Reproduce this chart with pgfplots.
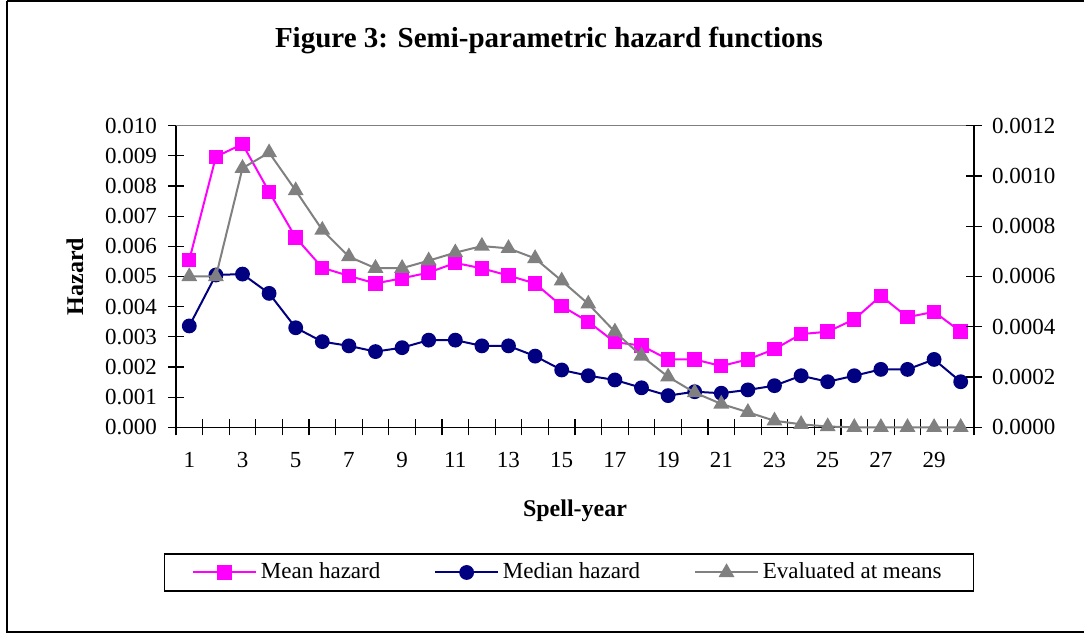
\documentclass[border=0pt]{standalone}
\usepackage{fontspec}
\setmainfont{Liberation Serif}
\usepackage{pgfplots}
\usepackage{pgfplotstable}
\pgfplotsset{compat=1.18}

\definecolor{meanc}{HTML}{FF00FF}
\definecolor{medc}{HTML}{000080}
\definecolor{evalc}{HTML}{808080}

% spell-year, mean hazard, median hazard (left axis), evaluated at means (right axis)
\pgfplotstableread{
year mean    median  evalm
1    0.00555 0.00336 0.000600
2    0.00897 0.00505 0.000600
3    0.00939 0.00508 0.001031
4    0.00781 0.00444 0.001093
5    0.00629 0.00330 0.000942
6    0.00529 0.00284 0.000785
7    0.00502 0.00270 0.000679
8    0.00477 0.00251 0.000633
9    0.00494 0.00264 0.000633
10   0.00513 0.00289 0.000663
11   0.00545 0.00289 0.000695
12   0.00527 0.00270 0.000721
13   0.00503 0.00270 0.000712
14   0.00477 0.00236 0.000672
15   0.00402 0.00190 0.000583
16   0.00350 0.00171 0.000491
17   0.00282 0.00157 0.000380
18   0.00271 0.00131 0.000284
19   0.00225 0.00105 0.000201
20   0.00225 0.00118 0.000138
21   0.00203 0.00113 0.000093
22   0.00225 0.00124 0.000060
23   0.00259 0.00138 0.000026
24   0.00309 0.00171 0.000012
25   0.00317 0.00151 0.000003
26   0.00358 0.00171 0.000000
27   0.00436 0.00192 0.000000
28   0.00365 0.00192 0.000000
29   0.00383 0.00225 0.000000
30   0.00317 0.00151 0.000000
}\hazards

\pgfplotsset{
  hz/.style={
    scale only axis, width=399pt, height=150.8pt,
    xmin=0.5, xmax=30.5, ymin=0,
    font=\fontsize{11.5}{13}\selectfont,
    tick align=center,
    major tick length=8pt,
    every tick/.style={black, line width=0.6pt},
    axis line style={black, line width=0.7pt},
    scaled y ticks=false,
    /pgf/number format/assume math mode=true,
    clip=false,
  },
  meanline/.style={meanc, line width=1pt, mark=square*, mark size=3.1pt, mark options={solid, fill=meanc, draw=meanc}},
  medline/.style={medc, line width=1pt, mark=*, mark size=3.2pt, mark options={solid, fill=medc, draw=medc}},
  evalline/.style={evalc, line width=1pt, mark=triangle*, mark size=3.6pt, mark options={solid, fill=evalc, draw=evalc}},
}

\begin{document}
\begin{tikzpicture}
  % 1 px of the reference = 0.5pt, y downwards negative
  \useasboundingbox (0pt,0pt) rectangle (542pt,-317.5pt);
  \draw[black, line width=1pt] (3.25pt,-0.5pt) -- (548pt,-0.5pt)
    (3.25pt,-0.5pt) -- (3.25pt,-316.25pt) -- (548pt,-316.25pt);
  \node[font=\fontsize{14.5}{16}\selectfont\bfseries] at (274.5pt,-20pt) {Figure 3: Semi-parametric hazard functions};

  \begin{axis}[hz,
    at={(88pt,-213.65pt)}, anchor=south west,
    ymax=0.010,
    axis x line*=bottom, axis y line*=left,
    % tick marks between the spell-years, labels on the odd years
    xtick={0.5,1.5,...,30.5}, xticklabels={},
    extra x ticks={1,3,...,29},
    extra x tick style={major tick length=0pt,
      xticklabel style={yshift=-9pt}},
    ytick={0,0.001,0.002,0.003,0.004,0.005,0.006,0.007,0.008,0.009,0.010},
    yticklabel style={/pgf/number format/fixed, /pgf/number format/fixed zerofill,
      /pgf/number format/precision=3, xshift=-2pt},
    xlabel={\fontsize{12}{14}\selectfont\bfseries Spell-year},
    xlabel style={at={([yshift=-41.5pt]axis description cs:0.5,0)}, anchor=center},
    ylabel={\fontsize{12}{14}\selectfont\bfseries Hazard},
    ylabel style={at={([xshift=-50.5pt]axis description cs:0,0.5)}, anchor=center},
  ]
    \draw[evalc, line width=0.7pt] (rel axis cs:0,1) -- (rel axis cs:1,1);
    \addplot[meanline] table[x=year, y=mean] {\hazards};
    \addplot[medline] table[x=year, y=median] {\hazards};
  \end{axis}

  \begin{axis}[hz,
    at={(88pt,-213.65pt)}, anchor=south west,
    ymax=0.0012,
    axis x line=none, axis y line*=right,
    ytick={0,0.0002,0.0004,0.0006,0.0008,0.0010,0.0012},
    yticklabel style={/pgf/number format/fixed, /pgf/number format/fixed zerofill,
      /pgf/number format/precision=4, xshift=1.5pt},
    legend columns=3,
    legend style={at={(axis description cs:0.4925,-0.4814)}, anchor=center,
      draw=black, line width=0.6pt, inner xsep=14pt, inner ysep=2.5pt,
      font=\fontsize{11.5}{13}\selectfont,
      /tikz/every even column/.append style={column sep=25pt}},
    legend image code/.code={\draw[mark repeat=2, mark phase=2] plot coordinates {(0cm,0cm) (0.55cm,0cm) (1.1cm,0cm)};},
  ]
    \addlegendimage{meanline}
    \addlegendentry{Mean hazard}
    \addlegendimage{medline}
    \addlegendentry{Median hazard}
    \addplot[evalline] table[x=year, y=evalm] {\hazards};
    \addlegendentry{Evaluated at means}
  \end{axis}
\end{tikzpicture}
\end{document}
